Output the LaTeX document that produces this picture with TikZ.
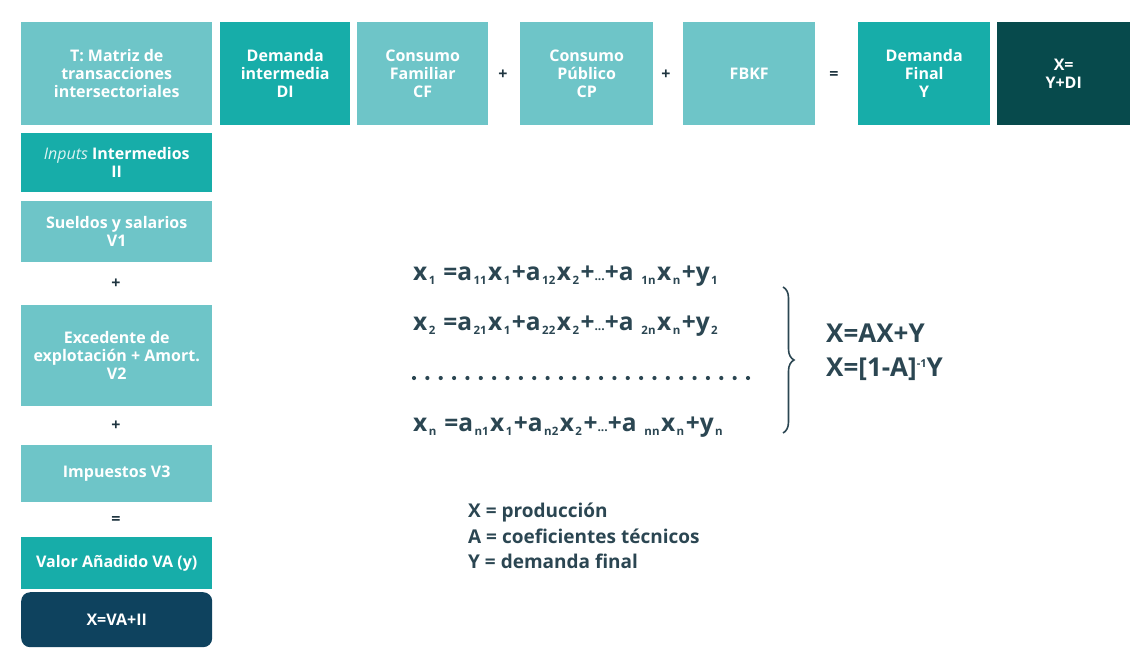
\documentclass[tikz,border=0pt]{standalone}
\usepackage{fontspec}
\setmainfont{Open Sans}
\usetikzlibrary{decorations.pathreplacing}
\definecolor{paleteal}{HTML}{6EC5C8}
\definecolor{deepteal}{HTML}{17ADA9}
\definecolor{pinegreen}{HTML}{074A4C}
\definecolor{navyblue}{HTML}{0E425E}
\definecolor{ink}{HTML}{2B4652}
\definecolor{signink}{HTML}{1F3540}
% small lowered index with a little air around it
\newcommand\sbs[1]{\kern1.5pt\relax\raisebox{-4pt}{\fontsize{11.5}{11.5}\selectfont #1}\kern1.5pt\relax}
\newcommand\tinydots{{\fontsize{12}{12}\selectfont...}}
\begin{document}
\begin{tikzpicture}[x=1pt,y=-1pt,
  cell/.style={rectangle, anchor=north west, inner sep=0pt, align=center, text=white,
    font=\fontsize{16}{18}\selectfont\bfseries},
  pale/.style={cell, fill=paleteal},
  deep/.style={cell, fill=deepteal},
  topcell/.style={minimum height=103pt},
  sidecell/.style={minimum width=191pt},
  opsign/.style={text=signink, inner sep=0pt, font=\fontsize{16}{16}\selectfont\bfseries},
  eqline/.style={text=ink, anchor=base west, inner sep=0pt, font=\fontsize{24.5}{24.5}\selectfont\bfseries},
  result/.style={text=ink, anchor=base west, inner sep=0pt, font=\fontsize{26}{26}\selectfont\bfseries},
  legend/.style={text=ink, anchor=base west, inner sep=0pt, font=\fontsize{19}{19}\selectfont\bfseries},
  dotrow/.style={draw=ink, line width=4.2pt, line cap=round, dash pattern=on 0pt off 13.36pt},
  bracestyle/.style={draw=ink, line width=1.6pt, decorate, decoration={brace, amplitude=11pt}}
]
\useasboundingbox (0,0) rectangle (1132,651);

% top row: T = DI + final demand components
\node[pale, topcell, minimum width=191pt] (T) at (21,22) {T: Matriz de\\transacciones\\intersectoriales};
\node[deep, topcell, minimum width=130pt] (DI) at (220,22) {Demanda\\intermedia\\DI};
\node[pale, topcell, minimum width=131pt] (CF) at (357,22) {Consumo\\Familiar\\CF};
\node[opsign] (p1) at (503,75) {+};
\node[pale, topcell, minimum width=133pt] (CP) at (520,22) {Consumo\\Público\\CP};
\node[opsign] (p2) at (666,75) {+};
\node[pale, topcell, minimum width=132pt] (FBKF) at (683,22) {FBKF};
\node[opsign] (e1) at (834,75) {=};
\node[deep, topcell, minimum width=132pt] (DF) at (858,22) {Demanda\\Final\\Y};
\node[cell, topcell, fill=pinegreen, minimum width=133pt] (XY) at (997,22) {X=\\Y+DI};

% left column: inputs and value added
\node[deep, sidecell, minimum height=59pt] (II) at (21,133) {{\mdseries\itshape\color{white!85!deepteal}Inputs} Intermedios\\II};
\node[pale, sidecell, minimum height=61pt] (V1) at (21,201) {Sueldos y salarios\\V1};
\node[opsign] (p3) at (116,284) {+};
\node[pale, sidecell, minimum height=101pt] (V2) at (21,305) {Excedente de\\explotación + Amort.\\V2};
\node[opsign] (p4) at (116,426) {+};
\node[pale, sidecell, minimum height=57pt] (V3) at (21,445) {Impuestos V3};
\node[opsign] (e2) at (116,520) {=};
\node[deep, sidecell, minimum height=52pt] (VA) at (21,537) {Valor Añadido VA (y)};
\node[cell, sidecell, fill=navyblue, minimum height=55pt, rounded corners=9pt] (XVA) at (21,592) {X=VA+II};

% system of equations
\node[eqline] (eq1) at (413,280) {x\sbs{1} =a\sbs{11}x\sbs{1}+a\sbs{12}x\sbs{2}+\tinydots+a \sbs{1n}x\sbs{n}+y\sbs{1}};
\node[eqline] (eq2) at (413,330) {x\sbs{2} =a\sbs{21}x\sbs{1}+a\sbs{22}x\sbs{2}+\tinydots+a \sbs{2n}x\sbs{n}+y\sbs{2}};
\coordinate (dotsL) at (414,378);
\coordinate (dotsR) at (749,378);
\draw[dotrow] (dotsL) -- (dotsR);
\node[eqline] (eqn) at (413,431) {x\sbs{n} =a\sbs{n1}x\sbs{1}+a\sbs{n2}x\sbs{2}+\tinydots+a \sbs{nn}x\sbs{n}+y\sbs{n}};

% brace and matrix form
\coordinate (braceTop) at (783,287);
\coordinate (braceBot) at (783,433);
\draw[bracestyle] (braceTop) -- (braceBot);
\node[result] (r1) at (826,342) {X=AX+Y};
\node[result] (r2) at (826,376) {X=[1-A]\raisebox{9pt}{\fontsize{11}{11}\selectfont -1}Y};

% legend
\node[legend] (l1) at (468,517) {X = producción};
\node[legend] (l2) at (468,543) {A = coeficientes técnicos};
\node[legend] (l3) at (468,568) {Y = demanda final};
\end{tikzpicture}
\end{document}
